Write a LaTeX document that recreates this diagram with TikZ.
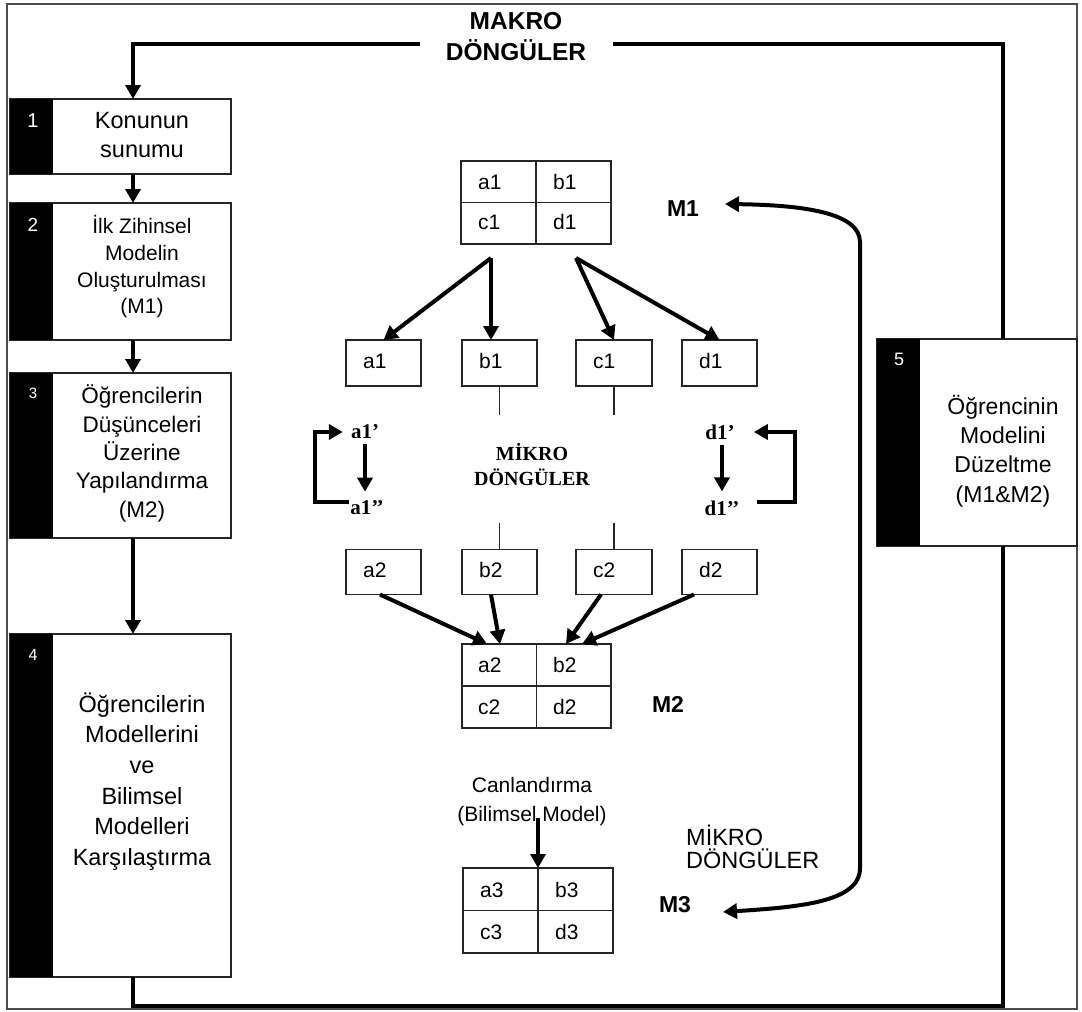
\documentclass[tikz,border=0pt]{standalone}
\usepackage{fontspec}
\setmainfont{Liberation Sans}
\newfontfamily\tnr{Liberation Serif}
\usetikzlibrary{arrows.meta}

\newcommand{\fs}[2]{\fontsize{#1}{#2}\selectfont}

\tikzset{
  >={Triangle[length=14pt,width=15pt]},
  outerframe/.style={draw=black!70, line width=1.5pt},
  stepbox/.style={draw=black!85, line width=1.6pt, fill=white, inner sep=0pt, outer sep=0pt},
  cellbox/.style={draw=black!85, line width=1.4pt, inner sep=0pt, outer sep=0pt},
  flow/.style={line width=4pt, ->},
  loopline/.style={line width=4pt},
  thinline/.style={draw=black!85, line width=1.2pt},
  numtext/.style={text=white, inner sep=0pt},
  body/.style={align=center, inner sep=0pt},
  celltext/.style={font=\fs{21}{24}, inner sep=0pt, anchor=west},
  mlabel/.style={font=\fs{23}{26}\bfseries, inner sep=0pt},
  primelabel/.style={font=\tnr\fs{21}{25}\bfseries, inner sep=1pt},
}

\begin{document}
\begin{tikzpicture}[x=1pt, y=-1pt]
\useasboundingbox (0,0) rectangle (1082,1012);
\draw[outerframe] (7,4) rectangle (1077,1009);

% ---------- macro loop title ----------
\node[body, font=\fs{24.5}{31}\bfseries] (makro) at (516,37) {MAKRO\\DÖNGÜLER};

% ---------- step boxes (left column and box 5) ----------
\node[stepbox, minimum width=221pt, minimum height=75pt]  (box1) at (120.5,136.5) {};
\node[stepbox, minimum width=221pt, minimum height=137pt] (box2) at (120.5,271.5) {};
\node[stepbox, minimum width=221pt, minimum height=165pt] (box3) at (120.5,455.5) {};
\node[stepbox, minimum width=221pt, minimum height=343pt] (box4) at (120.5,805.5) {};
\node[stepbox, minimum width=200pt, minimum height=207pt] (box5) at (977,442.5) {};

\foreach \b in {box1,box2,box3,box4,box5}
  \fill (\b.north west) rectangle ([xshift=43pt]\b.south west);

\node[numtext, font=\fs{20}{20}] (n1) at (33,121) {1};
\node[numtext, font=\fs{19}{19}] (n2) at (33,225) {2};
\node[numtext, font=\fs{15}{15}] (n3) at (33,393) {3};
\node[numtext, font=\fs{16}{16}] (n4) at (33,655) {4};
\node[numtext, font=\fs{18}{18}] (n5) at (899,359) {5};

\node[body, font=\fs{23.5}{29}] (t1) at (142,135.5) {Konunun\\sunumu};
\node[body, font=\fs{21}{26.7}] (t2) at (142,267) {İlk Zihinsel\\Modelin\\Oluşturulması\\(M1)};
\node[body, font=\fs{22.5}{28.3}] (t3) at (142,453.5) {Öğrencilerin\\Düşünceleri\\Üzerine\\Yapılandırma\\(M2)};
\node[body, font=\fs{23.5}{30.6}] (t4) at (142,781.5) {Öğrencilerin\\Modellerini\\ve\\Bilimsel\\Modelleri\\Karşılaştırma};
\node[body, font=\fs{23}{29.3}] (t5) at (1003,451) {Öğrencinin\\Modelini\\Düzeltme\\(M1\&M2)};

% ---------- macro loop connectors ----------
\coordinate (mL) at (420,44);
\coordinate (mR) at (613,44);
\draw[flow] (mL) -| ([xshift=123pt]box1.north west);
\draw[loopline] (mR) -| ([xshift=126pt]box5.north west);
\draw[flow] ([xshift=123pt]box1.south west) -- ([xshift=123pt]box2.north west);
\draw[flow] ([xshift=123pt]box2.south west) -- ([xshift=123pt]box3.north west);
\draw[flow] ([xshift=123pt]box3.south west) -- ([xshift=123pt]box4.north west);
\draw[loopline] ([xshift=123pt]box4.south west) -- ++(0,29) -| ([xshift=126pt]box5.south west);

% ---------- model M1 ----------
\node[cellbox, minimum width=150pt, minimum height=83pt] (g1) at (536,202.5) {};
\draw[thinline] (g1.north) -- (g1.south);
\draw[thinline] (g1.west) -- (g1.east);
\node[celltext] (g1a) at (478,182) {a1};
\node[celltext] (g1b) at (553,182) {b1};
\node[celltext] (g1c) at (478,222) {c1};
\node[celltext] (g1d) at (553,222) {d1};
\node[mlabel] (m1) at (683,209) {M1};

% ---------- first row of parts ----------
\node[cellbox, minimum width=75pt, minimum height=46pt] (r1a) at (383.5,363) {};
\node[cellbox, minimum width=75pt, minimum height=46pt] (r1b) at (499.5,363) {};
\node[cellbox, minimum width=76pt, minimum height=46pt] (r1c) at (614,363) {};
\node[cellbox, minimum width=75pt, minimum height=46pt] (r1d) at (719.5,363) {};
\node[celltext] (r1at) at ([xshift=17pt,yshift=2pt]r1a.west) {a1};
\node[celltext] (r1bt) at ([xshift=17pt,yshift=2pt]r1b.west) {b1};
\node[celltext] (r1ct) at ([xshift=17pt,yshift=2pt]r1c.west) {c1};
\node[celltext] (r1dt) at ([xshift=17pt,yshift=2pt]r1d.west) {d1};

\coordinate (s1) at (491,258);
\coordinate (s2) at (576,258);
\draw[flow] (s1) -- (r1a.north);
\draw[flow] (s1) -- (s1 |- r1b.north);
\draw[flow] (s2) -- (r1c.north);
\draw[flow] (s2) -- (r1d.north);

% ---------- micro loops ----------
\node[body, font=\tnr\fs{20}{25}\bfseries] (mikro) at (532,464.5) {MİKRO\\DÖNGÜLER};

\node[primelabel] (a1p)  at (365,432) {a1’};
\node[primelabel] (a1pp) at (367,508) {a1’’};
\node[primelabel] (d1p)  at (720,432) {d1’};
\node[primelabel] (d1pp) at (722,508) {d1’’};

\draw[flow, shorten <=4pt, shorten >=8pt] (a1p.south -| a1p.center) -- (a1p.center |- a1pp.north);
\draw[flow, shorten <=4pt, shorten >=8pt] (d1p.south -| d1pp.center) -- (d1pp.center |- d1pp.north);
\draw[flow] ([yshift=6pt]a1pp.west) -- ++(-34,0) |- ([xshift=-7pt]a1p.west);
\draw[flow] ([shift={(16pt,6pt)}]d1pp.east) -- ++(38,0) |- ([xshift=18pt]d1p.east);

\draw[thinline] (r1b.south) -- ++(0,29);
\draw[thinline] (r1c.south) -- ++(0,29);

% ---------- second row of parts ----------
\node[cellbox, minimum width=75pt, minimum height=45pt] (r2a) at (383.5,572) {};
\node[cellbox, minimum width=75pt, minimum height=45pt] (r2b) at (499.5,572) {};
\node[cellbox, minimum width=76pt, minimum height=45pt] (r2c) at (614,572) {};
\node[cellbox, minimum width=75pt, minimum height=45pt] (r2d) at (719.5,572) {};
\node[celltext] (r2at) at ([xshift=17pt,yshift=2pt]r2a.west) {a2};
\node[celltext] (r2bt) at ([xshift=17pt,yshift=2pt]r2b.west) {b2};
\node[celltext] (r2ct) at ([xshift=17pt,yshift=2pt]r2c.west) {c2};
\node[celltext] (r2dt) at ([xshift=17pt,yshift=2pt]r2d.west) {d2};

\draw[thinline] (r2b.north) -- ++(0,-27);
\draw[thinline] (r2c.north) -- ++(0,-27);

% ---------- model M2 ----------
\node[cellbox, minimum width=149pt, minimum height=84pt] (g2) at (536.5,686) {};
\draw[thinline] (g2.north) -- (g2.south);
\draw[thinline] (g2.west) -- (g2.east);
\node[celltext] (g2a) at (478,665) {a2};
\node[celltext] (g2b) at (553,665) {b2};
\node[celltext] (g2c) at (478,707) {c2};
\node[celltext] (g2d) at (553,707) {d2};
\node[mlabel] (m2) at (668,704) {M2};

\draw[flow] ([xshift=-3.5pt]r2a.south)  -- ([xshift=-49.5pt]g2.north);
\draw[flow] ([xshift=-8.5pt]r2b.south)  -- ([xshift=-36.5pt]g2.north);
\draw[flow] ([xshift=-13pt]r2c.south)   -- ([xshift=29.5pt]g2.north);
\draw[flow] ([xshift=-25.5pt]r2d.south) -- ([xshift=45.5pt]g2.north);

% ---------- model M3 ----------
\node[body, font=\fs{21}{29}] (canl) at (532,802) {Canlandırma\\(Bilimsel Model)};
\node[cellbox, minimum width=150pt, minimum height=85pt] (g3) at (538,910.5) {};
\draw[thinline] (g3.north) -- (g3.south);
\draw[thinline] (g3.west) -- (g3.east);
\node[celltext] (g3a) at (480,890) {a3};
\node[celltext] (g3b) at (555,890) {b3};
\node[celltext] (g3c) at (480,932) {c3};
\node[celltext] (g3d) at (555,932) {d3};
\node[mlabel] (m3) at (675,905) {M3};
\coordinate (cs) at (538,818);
\draw[flow] (cs) -- (g3.north);

\node[font=\fs{23.5}{23}, align=left, anchor=west, inner sep=0pt] (mikro2) at (686,846.5) {MİKRO\\DÖNGÜLER};

% ---------- return loop between M1 and M3 ----------
\coordinate (m1tip) at (725,204);
\coordinate (m3tip) at (723,912);
\draw[line width=4pt, <->] (m1tip) .. controls (800,205) and (860,212) .. (860,242)
  -- (860,868) .. controls (860,902) and (800,907) .. (m3tip);

\end{tikzpicture}
\end{document}
